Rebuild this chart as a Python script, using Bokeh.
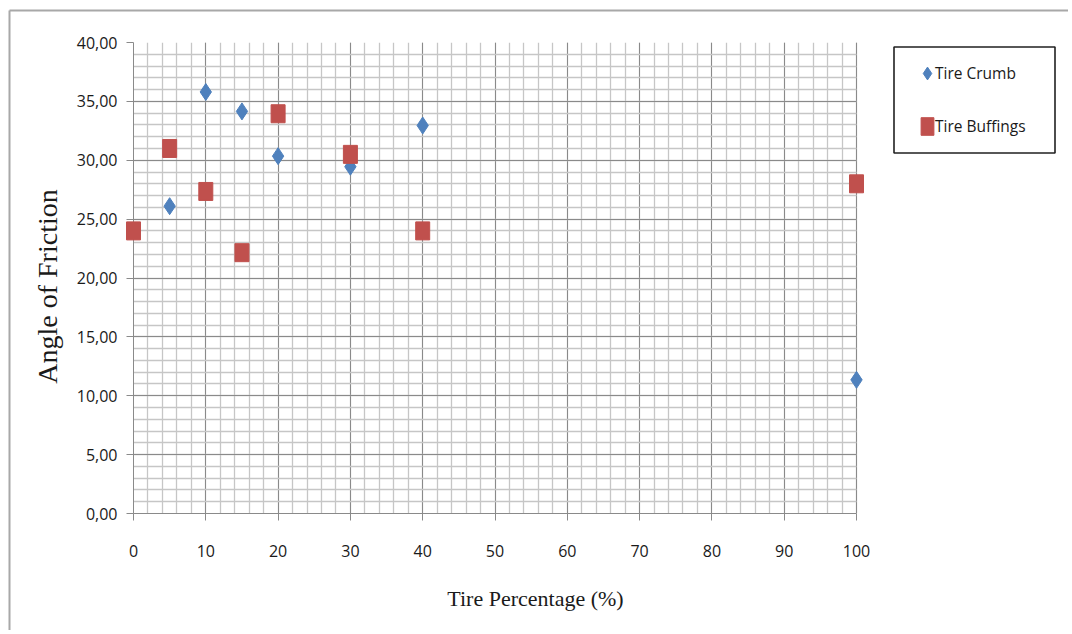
import math
from bokeh.plotting import figure
from bokeh.models import (Range1d, FixedTicker, CustomJSTickFormatter, Legend, LegendItem,
                          BoxAnnotation, ColumnDataSource)
from bokeh.core.properties import value
from bokeh.embed import file_html
from bokeh.resources import INLINE

# ---- data ----
crumb_x = [5, 10, 15, 20, 30, 40, 100]
crumb_y = [26.1, 35.8, 34.15, 30.35, 29.45, 32.95, 11.35]
buff_x = [0, 5, 10, 15, 20, 30, 40, 100]
buff_y = [24.0, 31.0, 27.35, 22.15, 33.95, 30.5, 24.0, 28.0]
x_ticks = [0, 10, 20, 30, 40, 50, 60, 70, 80, 90, 100]
y_ticks = [0, 5, 10, 15, 20, 25, 30, 35, 40]
series_names = ["Tire Crumb", "Tire Buffings"]
x_title = "Tire Percentage (%)"
y_title = "Angle of Friction"

BLUE = "#4F81BD"
RED = "#C0504D"
MAJOR = "#8a8a8a"
MINOR = "#c6c6c6"
TXT = "#1a1a1a"

W, H = 1068, 630
FL, FT, FR, FB = 133, 42, 856, 513      # plot-area pixels (x=0..100, y=0..40)
FRAME_R = 1062                           # frame extended to hold the legend
XMIN, XMAX, YMIN, YMAX = 0, 100, 0, 40


def dx(px):  # page pixel -> data x
    return XMIN + (px - FL) * (XMAX - XMIN) / (FR - FL)


def dy(py):  # page pixel -> data y
    return YMIN + (FB - py) * (YMAX - YMIN) / (FB - FT)


p = figure(width=W, height=H, output_backend="svg", toolbar_location=None,
           x_range=Range1d(XMIN, dx(FRAME_R)), y_range=Range1d(YMIN, YMAX),
           min_border_left=FL, min_border_top=FT, min_border_right=W - FRAME_R,
           min_border_bottom=H - FB)
p.background_fill_color = "white"
p.border_fill_color = "white"
p.outline_line_color = None

p.xaxis.ticker = FixedTicker(ticks=x_ticks, minor_ticks=list(range(0, 101, 2)))
p.yaxis.ticker = FixedTicker(ticks=y_ticks, minor_ticks=list(range(0, 41, 1)))
p.yaxis.formatter = CustomJSTickFormatter(code="return tick.toFixed(2).replace('.', ',');")
p.xaxis.bounds = (XMIN, XMAX)

for ax in (p.xaxis[0], p.yaxis[0]):
    ax.axis_line_color = MAJOR
    ax.major_tick_line_color = MAJOR
    ax.major_tick_out = 7
    ax.major_tick_in = 0
    ax.minor_tick_out = 0
    ax.minor_tick_in = 0
    ax.major_label_text_font = "Open Sans"
    ax.major_label_text_font_size = "16px"
    ax.major_label_text_color = TXT
p.xaxis.major_label_standoff = 24
p.yaxis.major_label_standoff = 9

for g in (p.xgrid[0], p.ygrid[0]):
    g.grid_line_color = MAJOR
    g.grid_line_width = 1
    g.minor_grid_line_color = MINOR
    g.minor_grid_line_width = 1.3
p.xgrid[0].bounds = (XMIN, XMAX)
p.ygrid[0].cross_bounds = (XMIN, XMAX)

src_c = ColumnDataSource(dict(x=crumb_x, y=crumb_y))
src_b = ColumnDataSource(dict(x=buff_x, y=buff_y))

r_c = p.scatter("x", "y", source=src_c, marker="diamond", size=17,
                fill_color=BLUE, line_color=BLUE, line_width=1, level="overlay")
r_b = p.rect("x", "y", source=src_b, width=14, height=18, width_units="screen",
             height_units="screen", fill_color=RED, line_color=RED, line_width=1,
             level="overlay")

# legend frame (frame-relative screen units)
p.add_layout(BoxAnnotation(left=893.5 - FL, right=1054.5 - FL, bottom=FB - 152.5,
                           top=FB - 46.5,
                           left_units="screen", right_units="screen",
                           bottom_units="screen", top_units="screen",
                           fill_color="white", fill_alpha=1, line_color="#202020",
                           line_alpha=1, line_width=1.6))

legA = Legend(items=[LegendItem(label=series_names[0], renderers=[r_c]),
                     LegendItem(label=series_names[1], renderers=[r_b])],
              location=(919 - FL, FB - 137), orientation="vertical",
              glyph_width=16, glyph_height=22, label_height=22, spacing=31,
              label_standoff=0, padding=0, margin=0,
              border_line_alpha=0, background_fill_alpha=0,
              label_text_font="Open Sans", label_text_font_size="15.5px",
              label_text_color=TXT)
p.add_layout(legA)

legB = Legend(items=[LegendItem(label=" ", renderers=[r_c])],
              location=(911 - FL, FB - 89), glyph_width=32, glyph_height=32,
              label_standoff=0, padding=0, margin=0, label_text_font_size="4px",
              border_line_alpha=0, background_fill_alpha=0)
p.add_layout(legB)

# axis titles (text glyphs, drawn outside the frame)
p.text(x=[dx(535)], y=[dy(598)], text=[x_title], text_align="center",
       text_baseline="middle", text_font=value("Liberation Serif"),
       text_font_size="22px", text_color=TXT, level="overlay")
p.text(x=[dx(47)], y=[dy(286)], text=[y_title], angle=math.pi / 2,
       text_align="center", text_baseline="middle",
       text_font=value("Liberation Serif"), text_font_size="28px",
       text_color=TXT, level="overlay")

# outer chart border (left and top)
p.segment(x0=[dx(9), dx(9)], y0=[dy(10), dy(10)], x1=[dx(9), dx(2000)],
          y1=[dy(2000), dy(10)], line_color="#a8a8a8", line_width=2, level="overlay")

open("out.html", "w").write(file_html(p, INLINE))
